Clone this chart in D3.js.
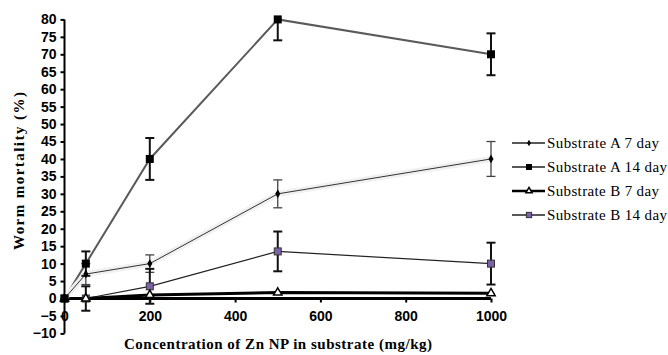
<!DOCTYPE html>
<html>
<head>
<meta charset="utf-8">
<script src="https://cdn.jsdelivr.net/npm/d3@7"></script>
<style>
  body { margin: 0; background: #fff; }
  svg { display: block; }
</style>
</head>
<body>
<div id="chart"></div>
<script>
// concentrations (mg/kg)
const doses = [0, 50, 200, 500, 1000];

const seriesNames = ["Substrate A 7 day", "Substrate A 14 day", "Substrate B 7 day", "Substrate B 14 day"];
const a7 = [0, 7, 10, 30, 40];
const a7Err = [0, 3, 2.5, 4, 5];
const a14 = [0, 10, 40, 80, 70];
const a14Err = [0, 3.5, 6, 6, 6];
const b7 = [0, 0, 1, 1.7, 1.5];
const b7Err = [0, 0, 0, 0, 0];
const b14 = [0, 0, 3.5, 13.5, 10];
const b14Err = [0, 3.5, 5, 5.7, 6];

const yTicks = d3.range(-10, 81, 5);
const xTicks = [0, 200, 400, 600, 800, 1000];

const width = 668, height = 355;

const svg = d3.select("#chart").append("svg")
  .attr("width", width)
  .attr("height", height);

const x = d3.scaleLinear().domain([0, 1000]).range([64.5, 491]);
const y = d3.scaleLinear().domain([-10, 80]).range([333.4, 19.4]);

const series = [
  { name: seriesNames[0], vals: a7, err: a7Err, line: "#333", lw: 1, halo: true, marker: "diamond", errColor: "#444", errW: 1.3 },
  { name: seriesNames[1], vals: a14, err: a14Err, line: "#5a5a5a", lw: 2, halo: false, marker: "square", errColor: "#111", errW: 2 },
  { name: seriesNames[2], vals: b7, err: b7Err, line: "#000", lw: 3, halo: false, marker: "triangle", errColor: "#111", errW: 2 },
  { name: seriesNames[3], vals: b14, err: b14Err, line: "#222", lw: 1.2, halo: false, marker: "psquare", errColor: "#111", errW: 2 }
];

// y axis
const yAxis = svg.append("g")
  .attr("transform", `translate(${x(0)},0)`)
  .call(d3.axisLeft(y).tickValues(yTicks).tickSize(4).tickPadding(4));
yAxis.select(".domain").remove();
yAxis.selectAll(".tick line").attr("stroke", "#000").attr("stroke-width", 2);
yAxis.selectAll("text")
  .attr("font-family", "Liberation Sans, Arial, sans-serif")
  .attr("font-size", 14)
  .attr("font-weight", "bold")
  .attr("fill", "#000");
svg.append("line")
  .attr("x1", x(0)).attr("x2", x(0))
  .attr("y1", y(80)).attr("y2", y(-10))
  .attr("stroke", "#000").attr("stroke-width", 2);

// x axis sits on zero
const xAxis = svg.append("g")
  .attr("transform", `translate(0,${y(0)})`)
  .call(d3.axisBottom(x).tickValues(xTicks).tickFormat(d3.format("d")).tickSize(4).tickPadding(9));
xAxis.select(".domain").remove();
xAxis.selectAll(".tick line").attr("stroke", "#000").attr("stroke-width", 2);
xAxis.selectAll("text")
  .attr("font-family", "Liberation Sans, Arial, sans-serif")
  .attr("font-size", 14)
  .attr("font-weight", "bold")
  .attr("fill", "#000");
svg.append("line")
  .attr("x1", x(0)).attr("x2", x(1000))
  .attr("y1", y(0)).attr("y2", y(0))
  .attr("stroke", "#000").attr("stroke-width", 3);

// titles
svg.append("text")
  .attr("x", 278).attr("y", 349)
  .attr("text-anchor", "middle")
  .attr("font-family", "Liberation Serif, Times New Roman, serif")
  .attr("font-weight", "bold")
  .attr("font-size", 15)
  .attr("textLength", 308)
  .text("Concentration of  Zn NP in substrate (mg/kg)");

svg.append("text")
  .attr("transform", "translate(24,171) rotate(-90)")
  .attr("text-anchor", "middle")
  .attr("font-family", "Liberation Serif, Times New Roman, serif")
  .attr("font-weight", "bold")
  .attr("font-size", 15)
  .attr("textLength", 158)
  .text("Worm mortality (%)");

const line = d3.line().x(d => x(d[0])).y(d => y(d[1]));

function drawMarker(g, type, cx, cy, k = 1) {
  if (type === "diamond") {
    g.append("path")
      .attr("d", d3.symbol(d3.symbolDiamond, 22 * k * k)())
      .attr("transform", `translate(${cx},${cy})`)
      .attr("fill", "#000");
  } else if (type === "square") {
    g.append("rect")
      .attr("x", cx - 4 * k).attr("y", cy - 4 * k).attr("width", 8 * k).attr("height", 8 * k)
      .attr("fill", "#000");
  } else if (type === "triangle") {
    g.append("path")
      .attr("d", d3.symbol(d3.symbolTriangle, 30 * k * k)())
      .attr("transform", `translate(${cx},${cy})`)
      .attr("fill", "#fff").attr("stroke", "#000").attr("stroke-width", 1.5);
  } else {
    g.append("rect")
      .attr("x", cx - 3.5 * k).attr("y", cy - 3.5 * k).attr("width", 7 * k).attr("height", 7 * k)
      .attr("fill", "#7a62a8").attr("stroke", "#333").attr("stroke-width", 1);
  }
}

// lines (drawn in reverse so A series sit on top)
series.slice().reverse().forEach(s => {
  const pts = doses.map((d, i) => [d, s.vals[i]]);
  if (s.halo) {
    svg.append("path").datum(pts)
      .attr("d", line).attr("fill", "none")
      .attr("stroke", "#f0f0f0").attr("stroke-width", 6);
  }
  svg.append("path").datum(pts)
    .attr("d", line).attr("fill", "none")
    .attr("stroke", s.line).attr("stroke-width", s.lw);
});

// error bars
series.forEach(s => {
  const g = svg.append("g");
  doses.forEach((d, i) => {
    const e = s.err[i];
    if (!e) return;
    const top = Math.min(s.vals[i] + e, 80);
    const bot = s.vals[i] - e;
    const cx = x(d);
    g.append("line")
      .attr("x1", cx).attr("x2", cx)
      .attr("y1", y(top)).attr("y2", y(bot))
      .attr("stroke", s.errColor).attr("stroke-width", s.errW);
    [top, bot].forEach(v => {
      if (v >= 80) return;
      g.append("line")
        .attr("x1", cx - 4.5).attr("x2", cx + 4.5)
        .attr("y1", y(v)).attr("y2", y(v))
        .attr("stroke", s.errColor).attr("stroke-width", s.errW);
    });
  });
});

// markers
series.slice().reverse().forEach(s => {
  const g = svg.append("g");
  doses.forEach((d, i) => drawMarker(g, s.marker, x(d), y(s.vals[i])));
});

// legend
const legend = svg.append("g");
series.forEach((s, i) => {
  const ly = 143 + i * 24;
  legend.append("line")
    .attr("x1", 512).attr("x2", 545)
    .attr("y1", ly).attr("y2", ly)
    .attr("stroke", i === 2 ? "#000" : "#222")
    .attr("stroke-width", i === 2 ? 2.5 : 1.3);
  drawMarker(legend, s.marker, 529, ly, 0.75);
  legend.append("text")
    .attr("x", 547).attr("y", ly)
    .attr("dy", "0.35em")
    .attr("font-family", "Liberation Serif, Times New Roman, serif")
    .attr("font-size", 15)
    .attr("textLength", s.name.length > 17 ? 120 : 112)
    .text(s.name);
});
</script>
</body>
</html>
